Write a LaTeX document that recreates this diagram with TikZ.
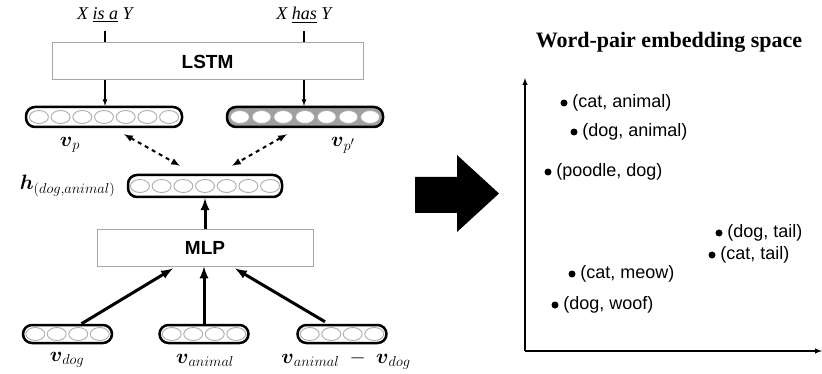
\documentclass[tikz,border=0pt]{standalone}
\usepackage{amsmath}
\usepackage{amssymb}
\usepackage[no-math]{fontspec}
\setmainfont{Liberation Serif}
\setsansfont{Liberation Sans}
\usepackage{tikz}
\usetikzlibrary{arrows,positioning}
\DeclareMathSizes{20}{20}{15.5}{12}

\begin{document}
\begin{tikzpicture}[x=1pt,y=-1pt,thick]
\tikzstyle{box} = [draw=gray!70, line width=1pt, font=\sffamily\bfseries\fontsize{19}{22}\selectfont]
\tikzstyle{vec} = [draw, line width=2.5pt, rounded corners=9pt, inner sep=0pt]
\tikzstyle{unit} = [draw=gray!65, fill=white, line width=0.9pt]
\tikzstyle{lbl} = [inner sep=1pt, font=\fontsize{20}{24}\selectfont]
\tikzstyle{pt} = [circle, fill=black, inner sep=0pt, minimum size=7pt]
\tikzstyle{pair} = [anchor=west, inner sep=8pt, font=\sffamily\fontsize{18}{21}\selectfont]
\useasboundingbox (0,0) rectangle (822,374);

% left: LSTM / MLP model
\node[font=\itshape\fontsize{18}{21}\selectfont] (isa) at (105,15) {X \underline{is a} Y};
\node[font=\itshape\fontsize{18}{21}\selectfont] (has) at (304,15) {X \underline{has} Y};
\node[box, minimum width=311pt, minimum height=37pt] (lstm) at (207.5,61.5) {LSTM};
\node[vec, minimum width=156pt, minimum height=20pt] (vp) at (104,117) {};
\node[vec, fill=gray!75, minimum width=156pt, minimum height=20pt] (vpp) at (305,117) {};
\node[vec, minimum width=154pt, minimum height=22pt] (h) at (205,186) {};
\node[box, minimum width=216pt, minimum height=36pt] (mlp) at (205,248) {MLP};
\node[vec, minimum width=89pt, minimum height=18pt] (vdog) at (67.5,334) {};
\node[vec, minimum width=89pt, minimum height=18pt] (vanimal) at (204,334) {};
\node[vec, minimum width=89pt, minimum height=18pt] (vdiff) at (342,334) {};

\foreach \n in {vp,vpp,h}
  \foreach \i in {-3,...,3}
    \draw[unit] ([xshift=\i*21.7pt]\n.center) ellipse (9.5 and 6.5);
\foreach \n in {vdog,vanimal,vdiff}
  \foreach \i in {-1.5,-0.5,0.5,1.5}
    \draw[unit] ([xshift=\i*21.5pt]\n.center) ellipse (9.5 and 6.5);

\node[lbl] (lvp) at (70,145) {$\boldsymbol{v}_p$};
\node[lbl] (lvpp) at (343,145) {$\boldsymbol{v}_{p'}$};
\node[lbl, left=10pt of h] (lh) {$\boldsymbol{h}_{(dog,animal)}$};
\node[lbl] (ldog) at (67,360) {$\boldsymbol{v}_{dog}$};
\node[lbl] (lanimal) at (205,360) {$\boldsymbol{v}_{animal}$};
\node[lbl, anchor=west] (ldiff) at (280,360) {$\boldsymbol{v}_{animal}\;-\;\boldsymbol{v}_{dog}$};

\draw[line width=1.2pt] (isa.south) ++(0,4) -- (isa |- lstm.north);
\draw[line width=1.2pt] (has.south) ++(0,4) -- (has |- lstm.north);
\draw[-latex, line width=1.2pt] (isa |- lstm.south) -- (isa |- vp.north);
\draw[-latex, line width=1.2pt] (has |- lstm.south) -- (has |- vpp.north);

\draw[latex-latex, line width=2pt, dash pattern=on 4pt off 4pt] ([xshift=20pt,yshift=-6pt]vp.south) -- ([xshift=-25pt,yshift=8pt]h.north);
\draw[latex-latex, line width=2pt, dash pattern=on 4pt off 4pt] ([xshift=-18pt,yshift=-6pt]vpp.south) -- ([xshift=27pt,yshift=8pt]h.north);

\draw[-latex, line width=3pt] (mlp.north) -- (h.south);
\draw[-latex, line width=3pt] ([xshift=14pt]vdog.north) -- ([xshift=-32pt,yshift=-2pt]mlp.south);
\draw[-latex, line width=3pt] (vanimal.north) -- (vanimal |- mlp.south);
\draw[-latex, line width=3pt] ([xshift=-17pt,yshift=2pt]vdiff.north) -- ([xshift=30pt,yshift=-2pt]mlp.south);

% big arrow
\fill (415,177) -- (457,177) -- (457,155) -- (499,193.5) -- (457,232) -- (457,213) -- (415,213) -- cycle;

% right: embedding space
\node[font=\bfseries\fontsize{22}{26}\selectfont] (title) at (669,42) {Word-pair embedding space};
\coordinate (o) at (525,351);
\coordinate (ytop) at (525,78);
\coordinate (xend) at (822,351);
\draw[-latex, line width=1.4pt] (o) -- (ytop);
\draw[-latex, line width=1.4pt] (o) -- (xend);

\foreach \x/\y/\t [count=\i] in {564/103/{(cat, animal)}, 574/132/{(dog, animal)}, 548/172/{(poodle, dog)}, 719/233/{(dog, tail)}, 712/255/{(cat, tail)}, 572/274/{(cat, meow)}, 555/305/{(dog, woof)}}
{
  \node[pt] (dot\i) at (\x,\y) {};
  \node[pair] (lab\i) at (dot\i.center) {\t};
}
\end{tikzpicture}
\end{document}
